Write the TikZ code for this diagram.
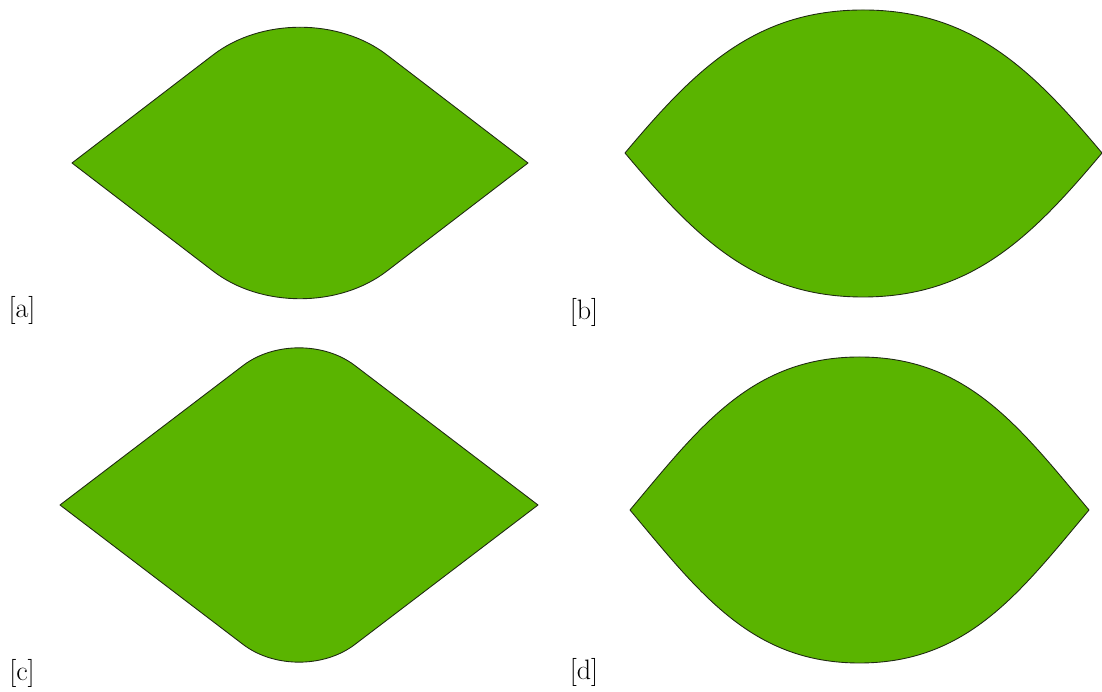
\documentclass[tikz,border=0pt]{standalone}
\usepackage{tikz}
\definecolor{leaf}{HTML}{5AB400}
\definecolor{ink}{HTML}{1F2A12}
\tikzset{
  leafshape/.style={fill=leaf,draw=ink,line width=0.5pt,line join=round},
  panellabel/.style={font=\fontsize{16}{19}\selectfont,inner sep=0pt}
}

\begin{document}
\begin{tikzpicture}[x=0.02cm,y=0.02cm]
  \useasboundingbox (0,0) rectangle (1102,692);

  % [a] rhombus, rounded top and bottom
  \draw[leafshape] (72,529) -- (213,637) .. controls (261,674) and (339,674) .. (387,637)
    -- (528,529) -- (387,421) .. controls (339,384) and (261,384) .. (213,421) -- cycle;
  \node[panellabel] (la) at (22,382) {[a]};

  % [b] lens
  \draw[leafshape] (625,539) to[out=50,in=180] (863,682)
    to[out=0,in=130] (1102,539) to[out=-130,in=0] (863,395)
    to[out=180,in=-50] cycle;
  \node[panellabel] (lb) at (584,380) {[b]};

  % [c] rhombus, less rounding
  \draw[leafshape] (60,187) -- (243.3,326.6) .. controls (274.1,350) and (323.9,350) .. (354.7,326.6)
    -- (538,187) -- (354.7,47.4) .. controls (323.9,24) and (274.1,24) .. (243.3,47.4) -- cycle;
  \node[panellabel] (lc) at (22,19) {[c]};

  % [d] lens
  \draw[leafshape] (630,182) to[out=50,in=180] (859.5,335)
    to[out=0,in=130] (1089,182) to[out=-130,in=0] (859.5,29)
    to[out=180,in=-50] cycle;
  \node[panellabel] (ld) at (584,20) {[d]};
\end{tikzpicture}
\end{document}
